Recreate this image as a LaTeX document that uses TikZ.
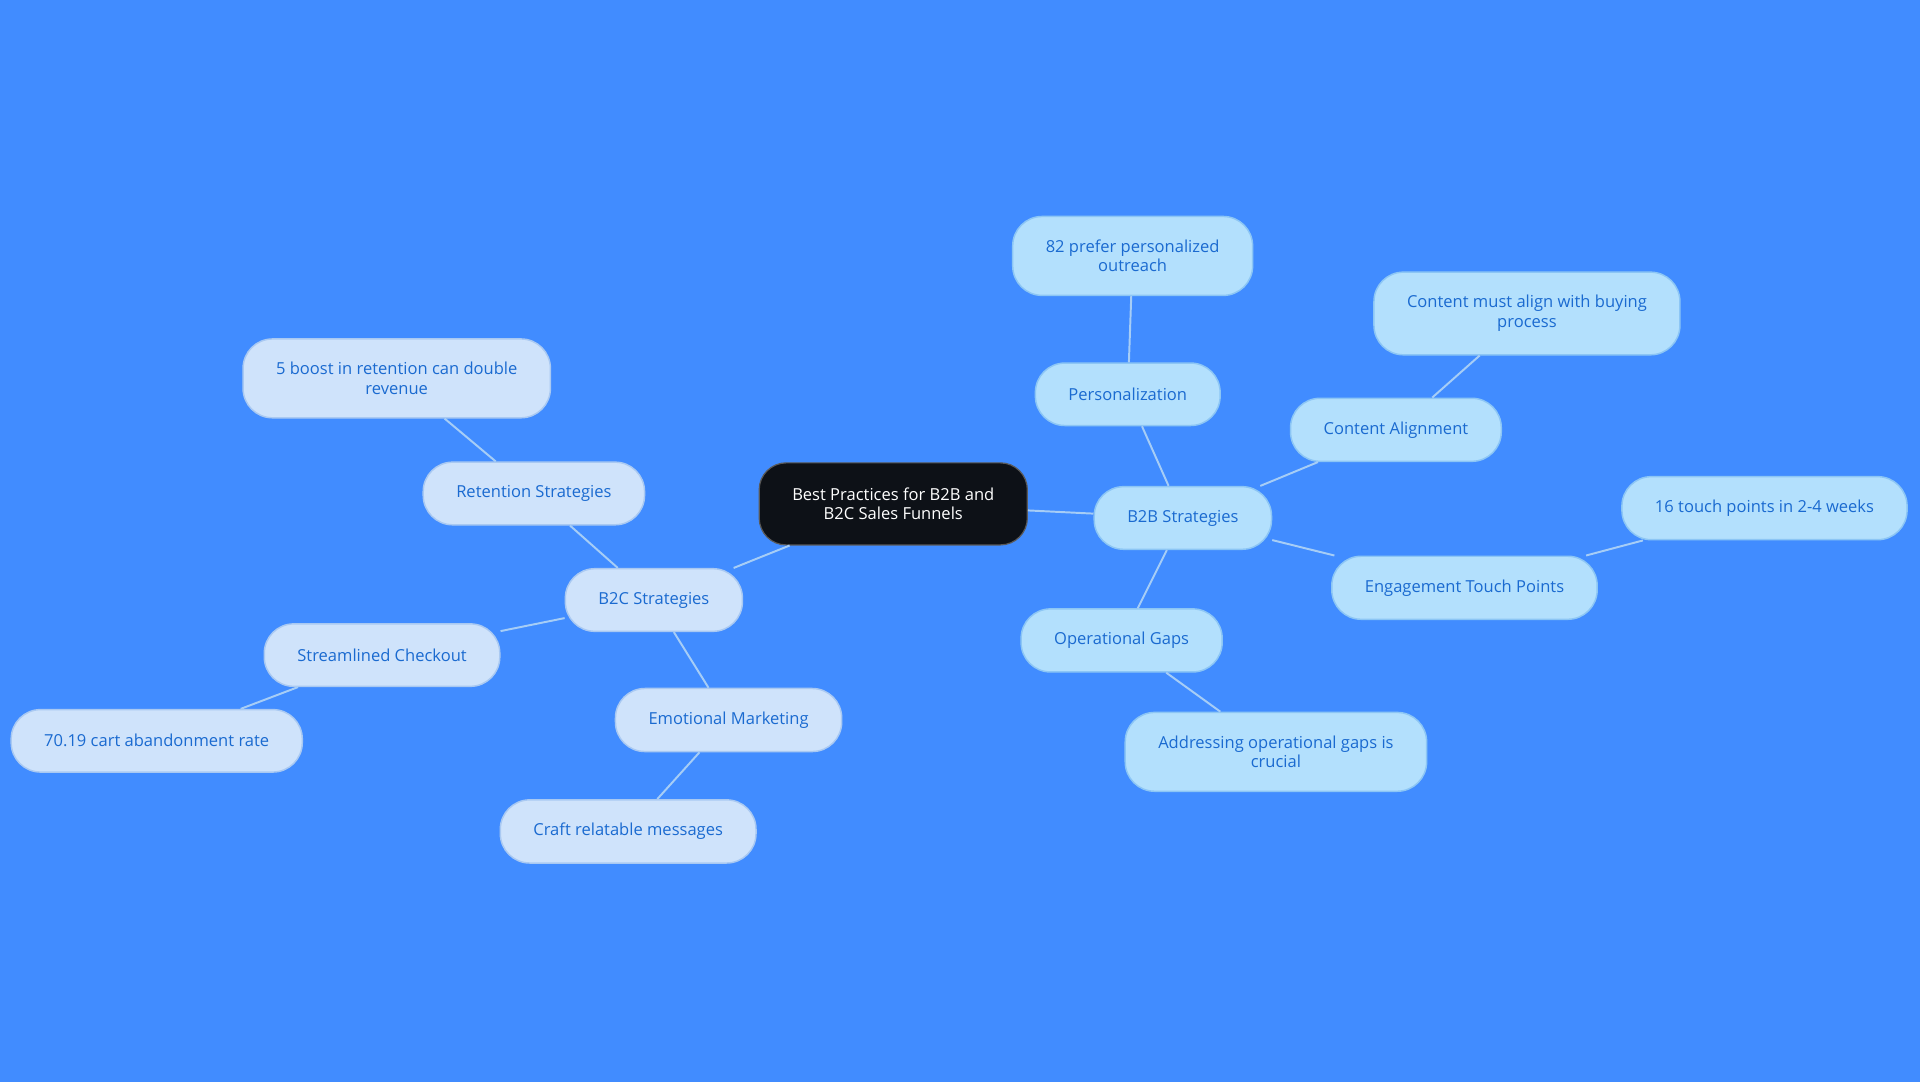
\documentclass[tikz,border=0pt]{standalone}
\usepackage{fontspec}
\setmainfont{Open Sans}
\usetikzlibrary{positioning}

\definecolor{bgblue}{HTML}{418CFF}
\definecolor{rootfill}{HTML}{0D1117}
\definecolor{leftfill}{HTML}{CFE3FB}
\definecolor{leftline}{HTML}{A9C9F2}
\definecolor{rightfill}{HTML}{B3E0FD}
\definecolor{rightline}{HTML}{8CC6F5}
\definecolor{nodetext}{HTML}{1A6AD0}
\definecolor{edgeblue}{HTML}{A6CDF6}

\tikzset{
  every node/.style={font=\fontsize{13.5}{16}\selectfont, align=center},
  root/.style={draw=gray!70!black, line width=1pt, fill=rootfill, text=white,
    rounded corners=22pt, inner xsep=27pt, inner ysep=19pt, minimum height=67pt},
  lbox/.style={draw=leftline, line width=1.2pt, fill=leftfill, text=nodetext,
    rounded corners=24pt, inner xsep=27pt, inner ysep=19pt, minimum height=51pt},
  rbox/.style={lbox, draw=rightline, fill=rightfill},
  link/.style={draw=edgeblue, line width=1.6pt}
}

\begin{document}
\begin{tikzpicture}[x=1pt, y=-1pt]
        \fill [bgblue] (0,0) rectangle (1568,884);
        \useasboundingbox (0,0) rectangle (1568,884);

        \node (root) [root] at (729.5,411.5) {Best Practices for B2B and\\B2C Sales Funnels};

        % B2C side
        \node (b2c)  [lbox] at (534,490) {B2C Strategies};
        \node (ret)  [lbox] at (436,403) {Retention Strategies};
        \node (retx) [lbox] at (324,309) {5 boost in retention can double\\revenue};
        \node (chk)  [lbox] at (312,535) {Streamlined Checkout};
        \node (chkx) [lbox] at (128,605) {70.19 cart abandonment rate};
        \node (emo)  [lbox] at (595,588) {Emotional Marketing};
        \node (emox) [lbox] at (513,679) {Craft relatable messages};

        % B2B side
        \node (b2b)  [rbox] at (966,423) {B2B Strategies};
        \node (pers) [rbox] at (921,322) {Personalization};
        \node (persx)[rbox] at (925,209) {82 prefer personalized\\outreach};
        \node (cont) [rbox] at (1140,351) {Content Alignment};
        \node (contx)[rbox] at (1247,256) {Content must align with buying\\process};
        \node (eng)  [rbox] at (1196,480) {Engagement Touch Points};
        \node (engx) [rbox] at (1441,415) {16 touch points in 2-4 weeks};
        \node (ops)  [rbox] at (916,523) {Operational Gaps};
        \node (opsx) [rbox] at (1042,614) {Addressing operational gaps is\\crucial};

        \draw [link] (root) -- (b2c);
        \draw [link] (b2c) -- (ret);
        \draw [link] (ret) -- (retx);
        \draw [link] (b2c) -- (chk);
        \draw [link] (chk) -- (chkx);
        \draw [link] (b2c) -- (emo);
        \draw [link] (emo) -- (emox);

        \draw [link] (root) -- (b2b);
        \draw [link] (b2b) -- (pers);
        \draw [link] (pers) -- (persx);
        \draw [link] (b2b) -- (cont);
        \draw [link] (cont) -- (contx);
        \draw [link] (b2b) -- (eng);
        \draw [link] (eng) -- (engx);
        \draw [link] (b2b) -- (ops);
        \draw [link] (ops) -- (opsx);
      \end{tikzpicture}
\end{document}
